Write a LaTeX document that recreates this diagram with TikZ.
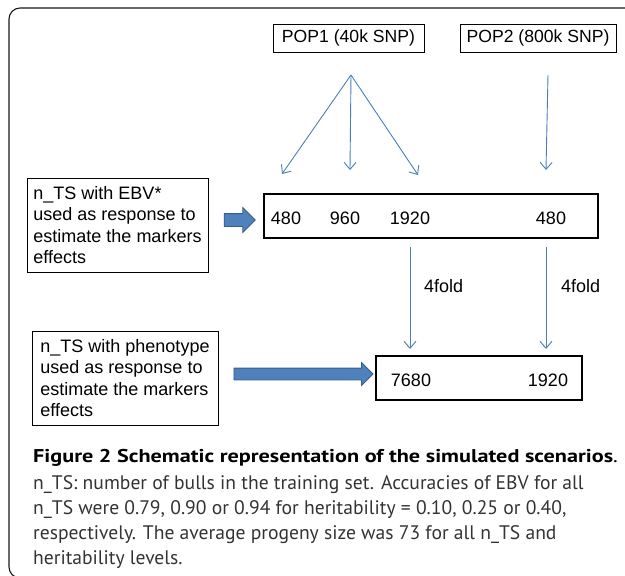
\documentclass[tikz,border=0pt]{standalone}
\usepackage{fontspec}
\setmainfont{Liberation Sans}
\newfontfamily\capfont{PT Sans}
\newfontfamily\capboldfont{PT Sans}[FakeStretch=1.2]
\usetikzlibrary{arrows.meta,shapes.arrows}

\definecolor{linkblue}{HTML}{4A7EBB}
\definecolor{blockfill}{HTML}{4F81BD}
\definecolor{blockedge}{HTML}{385D8A}
\definecolor{captext}{HTML}{333333}

\begin{document}
\begin{tikzpicture}[x=1pt,y=-1pt,
  frame/.style={draw=black!90, line width=1.1pt, rounded corners=11pt},
  popbox/.style={draw, line width=0.8pt, inner sep=0pt, minimum height=28pt,
    font=\fontsize{17.6}{20}\selectfont},
  setbox/.style={draw, line width=2.4pt, inner sep=0pt, minimum height=44pt},
  notebox/.style={draw, line width=1pt, inner sep=0pt, align=left,
    font=\fontsize{18}{21.5}\selectfont},
  num/.style={inner sep=0pt, font=\fontsize{18}{20}\selectfont},
  feed/.style={draw=linkblue, line width=0.9pt,
    -{Straight Barb[length=7pt,width=12pt,line width=0.9pt]}},
  blockarrow/.style={single arrow, draw=blockedge, fill=blockfill, line width=0.8pt,
    inner sep=0pt, single arrow head indent=0pt},
  capline/.style={anchor=base west, inner sep=0pt, text=captext,
    font=\capfont\fontsize{19.6}{22}\selectfont},
  captitle/.style={anchor=base west, inner sep=0pt, text=black,
    font=\capboldfont\bfseries\fontsize{18.5}{20}\selectfont}
]
\useasboundingbox (0,0) rectangle (625,576);
\clip (0,0) rectangle (625,576);

% outer frame, open on the right and bottom
\draw[frame] (9,8) rectangle (680,578);

% populations
\node[popbox, minimum width=151pt] (pop1) at (348.5,38) {POP1 (40k SNP)};
\node[popbox, minimum width=156pt] (pop2) at (538,38) {POP2 (800k SNP)};

% training set sizes with EBV
\node[setbox, minimum width=334pt] (ebvset) at (431,216) {};
\node[num] (n480)  at (286,218) {480};
\node[num] (n960)  at (345,218) {960};
\node[num] (n1920) at (410,218) {1920};
\node[num] (m480)  at (551,218) {480};

% training set sizes with phenotype
\node[setbox, minimum width=206pt] (phenset) at (479,378) {};
\node[num] (n7680) at (411,380) {7680};
\node[num] (m1920) at (548,380) {1920};

% explanatory boxes
\node[notebox, minimum width=181pt, minimum height=94pt] (ebvnote) at (117.5,225)
  {n\_TS with EBV*\\used as response to\\estimate the markers\\effects};
\node[notebox, minimum width=186pt, minimum height=94pt] (phennote) at (125,378)
  {n\_TS with phenotype\\used as response to\\estimate the markers\\effects};

% block arrows from the notes to the sets (the strut sets the shaft width)
\node[blockarrow, minimum height=31pt, minimum width=24pt,
  single arrow head extend=6pt] (barrow1) at (236.5,220) {\rule{0pt}{12pt}};
\node[blockarrow, minimum height=139pt, minimum width=22pt,
  single arrow head extend=5.5pt] (barrow2) at (300.5,374) {\rule{0pt}{11pt}};

% sampling arrows from the populations
\coordinate (fan1)  at (351,75);
\coordinate (fan2)  at (548,75);
\coordinate (to480) at (282,174);
\coordinate (to960) at (350,170);
\coordinate (to1920) at (418,175);
\coordinate (tom480) at (546,170);
\draw[feed] (fan1) -- (to480);
\draw[feed] (fan1) -- (to960);
\draw[feed] (fan1) -- (to1920);
\draw[feed] (fan2) -- (tom480);

% fourfold expansion
\coordinate (x1a) at (410,247);
\coordinate (x1b) at (410,349);
\coordinate (x2a) at (546,247);
\coordinate (x2b) at (546,349);
\draw[feed] (x1a) -- (x1b);
\draw[feed] (x2a) -- (x2b);
\node[num, anchor=west] (fold1) at (424,286) {4fold};
\node[num, anchor=west] (fold2) at (561,286) {4fold};

% caption
\node[captitle] (cap1) at (33,462) {Figure 2 Schematic representation of the simulated scenarios{\mdseries .}};
\node[capline] (cap2) at (33,489) {n\_TS: number of bulls in the training set. Accuracies of EBV for all};
\node[capline] (cap3) at (33,514) {n\_TS were 0.79, 0.90 or 0.94 for heritability = 0.10, 0.25 or 0.40,};
\node[capline] (cap4) at (33,539.5) {respectively. The average progeny size was 73 for all n\_TS and};
\node[capline] (cap5) at (33,564) {heritability levels.};
\end{tikzpicture}
\end{document}
